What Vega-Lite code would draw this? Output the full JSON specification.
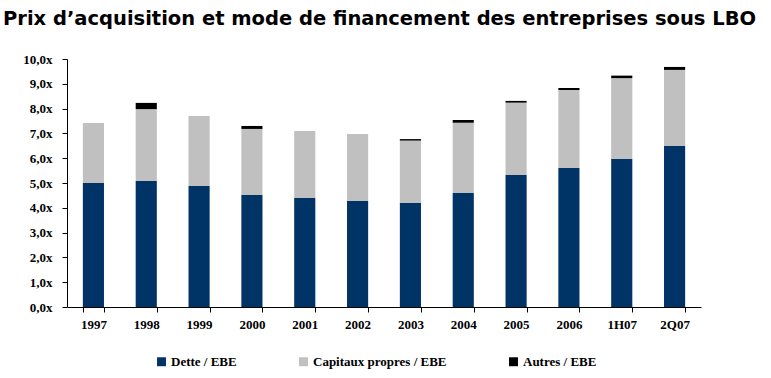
{
  "$schema": "https://vega.github.io/schema/vega-lite/v6.json",
  "width": 634,
  "height": 248,
  "autosize": "none",
  "padding": {"left": 67, "top": 59, "right": 70, "bottom": 71},
  "background": "white",
  "title": {
    "text": "Prix d’acquisition et mode de financement des entreprises sous LBO",
    "anchor": "start",
    "frame": "group",
    "dx": -64,
    "offset": 24,
    "font": "DejaVu Sans",
    "fontSize": 19.5,
    "fontWeight": "bold",
    "color": "black"
  },
  "data": {
    "values": [
      {"annee": "1997", "serie": "Dette / EBE", "ordre": 1, "valeur": 5.0},
      {"annee": "1997", "serie": "Capitaux propres / EBE", "ordre": 2, "valeur": 2.42},
      {"annee": "1998", "serie": "Dette / EBE", "ordre": 1, "valeur": 5.08},
      {"annee": "1998", "serie": "Capitaux propres / EBE", "ordre": 2, "valeur": 2.9},
      {"annee": "1998", "serie": "Autres / EBE", "ordre": 3, "valeur": 0.25},
      {"annee": "1999", "serie": "Dette / EBE", "ordre": 1, "valeur": 4.88},
      {"annee": "1999", "serie": "Capitaux propres / EBE", "ordre": 2, "valeur": 2.82},
      {"annee": "2000", "serie": "Dette / EBE", "ordre": 1, "valeur": 4.52},
      {"annee": "2000", "serie": "Capitaux propres / EBE", "ordre": 2, "valeur": 2.66},
      {"annee": "2000", "serie": "Autres / EBE", "ordre": 3, "valeur": 0.12},
      {"annee": "2001", "serie": "Dette / EBE", "ordre": 1, "valeur": 4.4},
      {"annee": "2001", "serie": "Capitaux propres / EBE", "ordre": 2, "valeur": 2.7},
      {"annee": "2002", "serie": "Dette / EBE", "ordre": 1, "valeur": 4.27},
      {"annee": "2002", "serie": "Capitaux propres / EBE", "ordre": 2, "valeur": 2.71},
      {"annee": "2003", "serie": "Dette / EBE", "ordre": 1, "valeur": 4.19},
      {"annee": "2003", "serie": "Capitaux propres / EBE", "ordre": 2, "valeur": 2.52},
      {"annee": "2003", "serie": "Autres / EBE", "ordre": 3, "valeur": 0.06},
      {"annee": "2004", "serie": "Dette / EBE", "ordre": 1, "valeur": 4.6},
      {"annee": "2004", "serie": "Capitaux propres / EBE", "ordre": 2, "valeur": 2.83},
      {"annee": "2004", "serie": "Autres / EBE", "ordre": 3, "valeur": 0.11},
      {"annee": "2005", "serie": "Dette / EBE", "ordre": 1, "valeur": 5.32},
      {"annee": "2005", "serie": "Capitaux propres / EBE", "ordre": 2, "valeur": 2.92},
      {"annee": "2005", "serie": "Autres / EBE", "ordre": 3, "valeur": 0.07},
      {"annee": "2006", "serie": "Dette / EBE", "ordre": 1, "valeur": 5.6},
      {"annee": "2006", "serie": "Capitaux propres / EBE", "ordre": 2, "valeur": 3.15},
      {"annee": "2006", "serie": "Autres / EBE", "ordre": 3, "valeur": 0.08},
      {"annee": "1H07", "serie": "Dette / EBE", "ordre": 1, "valeur": 5.98},
      {"annee": "1H07", "serie": "Capitaux propres / EBE", "ordre": 2, "valeur": 3.25},
      {"annee": "1H07", "serie": "Autres / EBE", "ordre": 3, "valeur": 0.1},
      {"annee": "2Q07", "serie": "Dette / EBE", "ordre": 1, "valeur": 6.49},
      {"annee": "2Q07", "serie": "Capitaux propres / EBE", "ordre": 2, "valeur": 3.07},
      {"annee": "2Q07", "serie": "Autres / EBE", "ordre": 3, "valeur": 0.12}
    ]
  },
  "mark": {"type": "bar"},
  "encoding": {
    "x": {
      "field": "annee",
      "type": "nominal",
      "sort": null,
      "title": null,
      "scale": {"paddingInner": 0.6, "paddingOuter": 0.3},
      "axis": {
        "labelAngle": 0,
        "tickBand": "extent",
        "tickSize": 5,
        "tickColor": "black",
        "domainColor": "black",
        "labelFont": "Liberation Serif",
        "labelFontWeight": "bold",
        "labelFontSize": 13,
        "labelColor": "black",
        "labelPadding": 6
      }
    },
    "y": {
      "field": "valeur",
      "type": "quantitative",
      "stack": "zero",
      "title": null,
      "scale": {"domain": [0, 10]},
      "axis": {
        "values": [0, 1, 2, 3, 4, 5, 6, 7, 8, 9, 10],
        "labelExpr": "replace(format(datum.value, '.1f'), '.', ',') + 'x'",
        "grid": false,
        "tickSize": 5,
        "tickColor": "black",
        "domainColor": "black",
        "labelFont": "Liberation Serif",
        "labelFontWeight": "bold",
        "labelFontSize": 13,
        "labelColor": "black",
        "labelPadding": 10
      }
    },
    "color": {
      "field": "serie",
      "type": "nominal",
      "scale": {
        "domain": ["Dette / EBE", "Capitaux propres / EBE", "Autres / EBE"],
        "range": ["#003366", "#C0C0C0", "#000000"]
      },
      "legend": {
        "title": null,
        "orient": "none",
        "direction": "horizontal",
        "legendX": 88,
        "legendY": 296,
        "symbolType": "square",
        "symbolSize": 80,
        "symbolStrokeWidth": 0,
        "symbolOpacity": 1,
        "labelFont": "Liberation Serif",
        "labelFontWeight": "bold",
        "labelFontSize": 13,
        "labelColor": "black",
        "labelOffset": 3,
        "columnPadding": 60
      }
    },
    "order": {"field": "ordre", "type": "quantitative"}
  },
  "config": {
    "view": {"stroke": null},
    "axis": {"domainWidth": 1, "tickWidth": 1}
  }
}
